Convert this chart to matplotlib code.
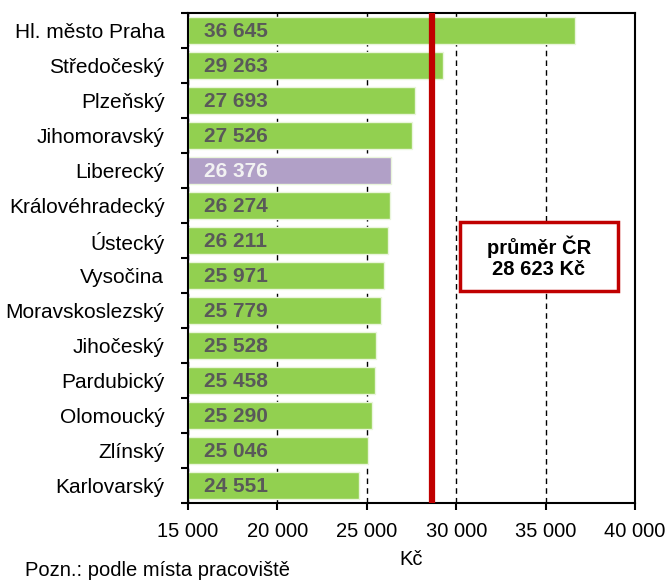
import numpy as np
import matplotlib
matplotlib.use('Agg')
import matplotlib.pyplot as plt
from matplotlib.patches import Rectangle

plt.rcParams['font.family'] = ['Liberation Sans', 'DejaVu Sans']

# data
kraje = ['Hl. město Praha', 'Středočeský', 'Plzeňský', 'Jihomoravský', 'Liberecký',
         'Královéhradecký', 'Ústecký', 'Vysočina', 'Moravskoslezský', 'Jihočeský',
         'Pardubický', 'Olomoucký', 'Zlínský', 'Karlovarský']
mzdy = [36645, 29263, 27693, 27526, 26376, 26274, 26211, 25971, 25779, 25528,
        25458, 25290, 25046, 24551]
prumer = 28623
zvyrazneny = 'Liberecký'
xticks = [15000, 20000, 25000, 30000, 35000, 40000]

def fmt(v):
    return '{:,}'.format(v).replace(',', ' ')

fig = plt.figure(figsize=(6.65, 5.8), dpi=100)
ax = fig.add_axes([188/665, 1-503/580, (635-188)/665, (503-13)/580])

y = np.arange(len(kraje))
barvy = ['#B1A0C7' if k == zvyrazneny else '#92D050' for k in kraje]
ax.barh(y, [m - 15000 for m in mzdy], left=15000, height=0.76, color=barvy,
        edgecolor='#EAF5DC', linewidth=1, zorder=2)

for i, (k, m) in enumerate(zip(kraje, mzdy)):
    c = '#F2F2F2' if k == zvyrazneny else '#595959'
    ax.text(15900, i + 0.03, fmt(m), va='center', ha='left', fontsize=15,
            fontweight='bold', color=c, zorder=3)

# prumer CR
ax.axvline(prumer, color='#C00000', linewidth=4.5, zorder=4)
# ramecek s popiskem
ax.add_patch(Rectangle((30213, 5.47), 39049 - 30213, 7.44 - 5.47, facecolor='white',
                       edgecolor='#C00000', linewidth=2.5, zorder=5))
ax.text(34630, 6.47, 'průměr ČR\n' + fmt(prumer) + ' Kč', ha='center', va='center',
        fontsize=14.5, fontweight='bold', linespacing=1.15, zorder=6)

ax.set_xlim(15000, 40000)
ax.set_ylim(len(kraje) - 0.5, -0.5)
ax.set_xticks(xticks)
ax.set_xticklabels([fmt(v) for v in xticks], fontsize=14.5)
ax.set_yticks(y)
ax.set_yticklabels(kraje, fontsize=15)
ax.set_yticks(np.arange(len(kraje) + 1) - 0.5, minor=True)
ax.tick_params(axis='y', which='major', length=0, pad=17)
ax.tick_params(axis='y', which='minor', length=5, width=1.5, direction='out')
ax.tick_params(axis='x', length=5, width=1.5, direction='out', pad=9)
for s in ax.spines.values():
    s.set_linewidth(1.5)
ax.grid(axis='x', color='black', linestyle=(0, (4, 3)), linewidth=1, zorder=1)
ax.set_axisbelow(True)

ax.set_xlabel('Kč', fontsize=14.5, labelpad=6)
fig.text(25/665, 0.0, 'Pozn.: podle místa pracoviště', fontsize=14.5, ha='left', va='bottom')

fig.savefig('out.png', dpi=100)
